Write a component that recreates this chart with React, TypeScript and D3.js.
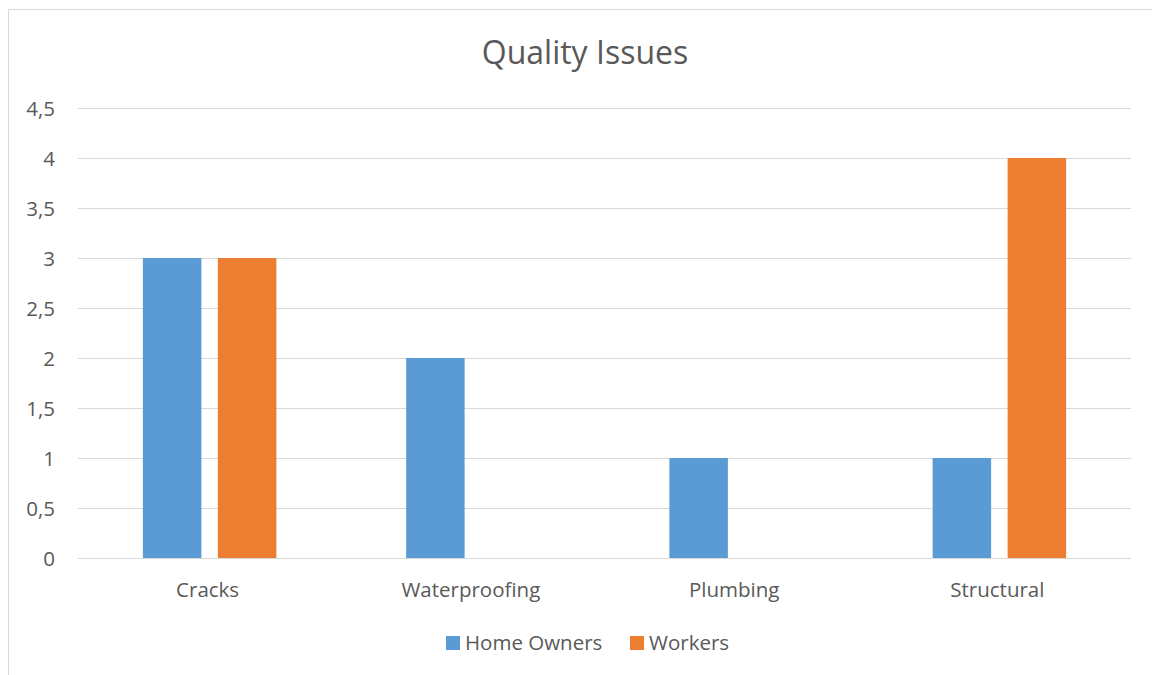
import React, { useEffect, useRef } from 'react';
import * as d3 from 'd3';

const categories = ['Cracks', 'Waterproofing', 'Plumbing', 'Structural'];
const seriesNames = ['Home Owners', 'Workers'];
const homeOwners = [3, 2, 1, 1];
const workers = [3, 0, 0, 4];
const yTicks = [0, 0.5, 1, 1.5, 2, 2.5, 3, 3.5, 4, 4.5];
const colors = ['#5b9bd5', '#ed7d31'];

function App() {
    const chartRef = useRef<SVGSVGElement>(null);

    useEffect(() => {
        const width = 1152;
        const height = 675;
        const margin = { top: 108, right: 21, bottom: 117, left: 78 };

        const svg = d3.select(chartRef.current);
        svg.selectAll('*').remove();
        svg.attr('width', width).attr('height', height);

        const font = '"Open Sans", sans-serif';
        const textColor = '#595959';

        // chart frame
        svg.append('rect')
            .attr('x', 8.5).attr('y', 9.5)
            .attr('width', width).attr('height', height)
            .attr('fill', 'white')
            .attr('stroke', '#d9d9d9');

        const x0 = d3.scaleBand<string>()
            .domain(categories)
            .range([margin.left, width - margin.right]);

        const x1 = d3.scaleBand<string>()
            .domain(seriesNames)
            .range([0, 150])
            .paddingInner(0.22)
            .paddingOuter(0.11);

        const y = d3.scaleLinear()
            .domain([0, 4.5])
            .range([height - margin.bottom, margin.top]);

        // gridlines
        svg.append('g')
            .selectAll('line')
            .data(yTicks)
            .join('line')
            .attr('x1', margin.left)
            .attr('x2', width - margin.right)
            .attr('y1', (d) => Math.round(y(d)) + 0.5)
            .attr('y2', (d) => Math.round(y(d)) + 0.5)
            .attr('stroke', '#d9d9d9')
            .attr('stroke-width', 1);

        // y labels
        svg.append('g')
            .selectAll('text')
            .data(yTicks)
            .join('text')
            .attr('x', 55)
            .attr('y', (d) => y(d) + 7.5)
            .attr('text-anchor', 'end')
            .attr('font-family', font)
            .attr('font-size', 20.5)
            .attr('fill', textColor)
            .text((d) => String(d).replace('.', ','));

        // bars
        const data = seriesNames.map((name, i) => ({
            name,
            values: i === 0 ? homeOwners : workers,
        }));

        data.forEach((s, si) => {
            svg.append('g')
                .selectAll('rect')
                .data(s.values.map((v, i) => ({ cat: categories[i], v })).filter((d) => d.v > 0))
                .join('rect')
                .attr('x', (d) => x0(d.cat)! + x0.bandwidth() / 2 - 75 + x1(s.name)!)
                .attr('y', (d) => y(d.v))
                .attr('width', x1.bandwidth())
                .attr('height', (d) => y(0) - y(d.v))
                .attr('fill', colors[si]);
        });

        // x labels
        svg.append('g')
            .selectAll('text')
            .data(categories)
            .join('text')
            .attr('x', (d) => x0(d)! + x0.bandwidth() / 2 - 2)
            .attr('y', 597)
            .attr('text-anchor', 'middle')
            .attr('font-family', font)
            .attr('font-size', 20.5)
            .attr('fill', textColor)
            .text((d) => d);

        // title
        svg.append('text')
            .attr('x', 585)
            .attr('y', 64)
            .attr('text-anchor', 'middle')
            .attr('font-family', font)
            .attr('font-size', 32)
            .attr('fill', textColor)
            .text('Quality Issues');

        // legend
        const legendX = [446, 630];
        const legend = svg.append('g');
        seriesNames.forEach((name, i) => {
            legend.append('rect')
                .attr('x', legendX[i])
                .attr('y', 636)
                .attr('width', 14)
                .attr('height', 14)
                .attr('fill', colors[i]);
            legend.append('text')
                .attr('x', legendX[i] + 19)
                .attr('y', 650)
                .attr('font-family', font)
                .attr('font-size', 20.5)
                .attr('fill', textColor)
                .text(name);
        });
    }, []);

    return (
        <div style={{ position: 'absolute', left: 0, top: 0 }}>
            <svg ref={chartRef} style={{ display: 'block' }}></svg>
        </div>
    );
}

export default App;
